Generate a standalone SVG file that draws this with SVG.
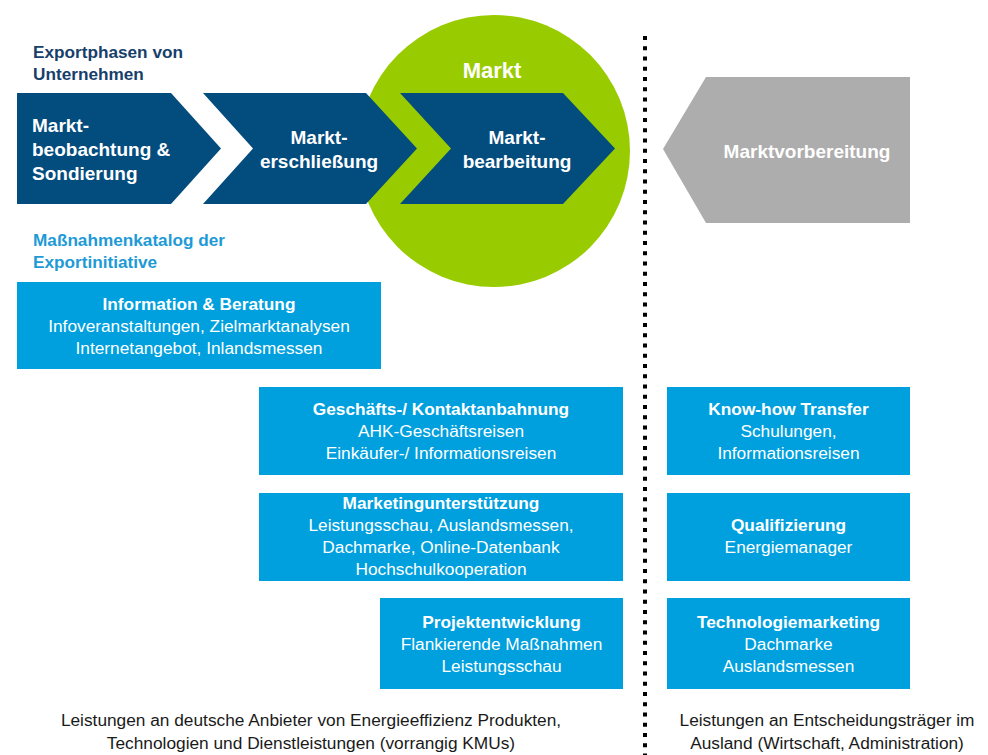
<svg xmlns="http://www.w3.org/2000/svg" width="988" height="755" viewBox="0 0 988 755">
<style>
text{font-family:"Liberation Sans",Arial,sans-serif}
.phase{fill:#034C7E}
.box{fill:#00A0DE}
.at{fill:#fff;font-weight:bold;font-size:19px}
.bt{fill:#fff;font-size:17.3px;text-anchor:middle}
.b{font-weight:bold}
.hd{font-weight:bold;font-size:17.2px}
.ft{fill:#1a1a1a;font-size:17.3px;text-anchor:middle}
</style>
<rect width="988" height="755" fill="#fff"/>
<g id="market-circle">
<circle cx="494" cy="151" r="136" fill="#99CC00"/>
<text x="492" y="78" class="at" text-anchor="middle" style="font-size:22px">Markt</text>
</g>
<g id="heading-phases">
<text x="33" y="58" class="hd" fill="#173F6C">Exportphasen von</text>
<text x="33" y="80" class="hd" fill="#173F6C">Unternehmen</text>
</g>
<g id="phase-1">
<polygon class="phase" points="17,93 171,93 221,148.5 171,204 17,204"/>
<text class="at" x="32"><tspan x="32" y="132">Markt-</tspan><tspan x="32" y="156">beobachtung &amp;</tspan><tspan x="32" y="180">Sondierung</tspan></text>
</g>
<g id="phase-2">
<polygon class="phase" points="203,93 366,93 417,148.5 366,204 203,204 253,148.5"/>
<text class="at" text-anchor="middle"><tspan x="319" y="144">Markt-</tspan><tspan x="319" y="168">erschließung</tspan></text>
</g>
<g id="phase-3">
<polygon class="phase" points="400,93 563,93 615,148.5 563,204 400,204 451,148.5"/>
<text class="at" text-anchor="middle"><tspan x="517" y="144">Markt-</tspan><tspan x="517" y="168">bearbeitung</tspan></text>
</g>
<g id="marktvorbereitung">
<polygon fill="#ADADAD" points="706,77 910,77 910,223 706,223 663,149"/>
<text class="at" x="807" y="158" text-anchor="middle">Marktvorbereitung</text>
</g>
<g id="heading-catalog">
<text x="33" y="246" class="hd" fill="#1E9AD6">Maßnahmenkatalog der</text>
<text x="33" y="268" class="hd" fill="#1E9AD6">Exportinitiative</text>
</g>
<g id="info-beratung">
<rect class="box" x="17" y="282" width="364" height="87"/>
<text class="bt"><tspan x="199" y="310" class="b">Information &amp; Beratung</tspan><tspan x="199" y="332">Infoveranstaltungen, Zielmarktanalysen</tspan><tspan x="199" y="354">Internetangebot, Inlandsmessen</tspan></text>
</g>
<g id="kontaktanbahnung">
<rect class="box" x="259" y="387" width="364" height="88"/>
<text class="bt"><tspan x="441" y="415" class="b">Geschäfts-/ Kontaktanbahnung</tspan><tspan x="441" y="437">AHK-Geschäftsreisen</tspan><tspan x="441" y="459">Einkäufer-/ Informationsreisen</tspan></text>
</g>
<g id="marketingunterstuetzung">
<rect class="box" x="259" y="493" width="364" height="88"/>
<text class="bt"><tspan x="441" y="509" class="b">Marketingunterstützung</tspan><tspan x="441" y="531">Leistungsschau, Auslandsmessen,</tspan><tspan x="441" y="553">Dachmarke, Online-Datenbank</tspan><tspan x="441" y="575">Hochschulkooperation</tspan></text>
</g>
<g id="projektentwicklung">
<rect class="box" x="380" y="598" width="243" height="91"/>
<text class="bt"><tspan x="501.5" y="628" class="b">Projektentwicklung</tspan><tspan x="501.5" y="650">Flankierende Maßnahmen</tspan><tspan x="501.5" y="672">Leistungsschau</tspan></text>
</g>
<g id="know-how-transfer">
<rect class="box" x="667" y="387" width="243" height="88"/>
<text class="bt"><tspan x="788.5" y="415" class="b">Know-how Transfer</tspan><tspan x="788.5" y="437">Schulungen,</tspan><tspan x="788.5" y="459">Informationsreisen</tspan></text>
</g>
<g id="qualifizierung">
<rect class="box" x="667" y="493" width="243" height="88"/>
<text class="bt"><tspan x="788.5" y="531" class="b">Qualifizierung</tspan><tspan x="788.5" y="553">Energiemanager</tspan></text>
</g>
<g id="technologiemarketing">
<rect class="box" x="667" y="598" width="243" height="91"/>
<text class="bt"><tspan x="788.5" y="628" class="b">Technologiemarketing</tspan><tspan x="788.5" y="650">Dachmarke</tspan><tspan x="788.5" y="672">Auslandsmessen</tspan></text>
</g>
<g id="connectors">
<line x1="645" y1="36" x2="645" y2="755" stroke="#000" stroke-width="4" stroke-dasharray="4 6.25"/>
</g>
<g id="footer">
<text class="ft"><tspan x="311" y="726">Leistungen an deutsche Anbieter von Energieeffizienz Produkten,</tspan><tspan x="311" y="749">Technologien und Dienstleistungen (vorrangig KMUs)</tspan></text>
<text class="ft"><tspan x="827" y="726">Leistungen an Entscheidungsträger im</tspan><tspan x="827" y="749">Ausland (Wirtschaft, Administration)</tspan></text>
</g>
</svg>
